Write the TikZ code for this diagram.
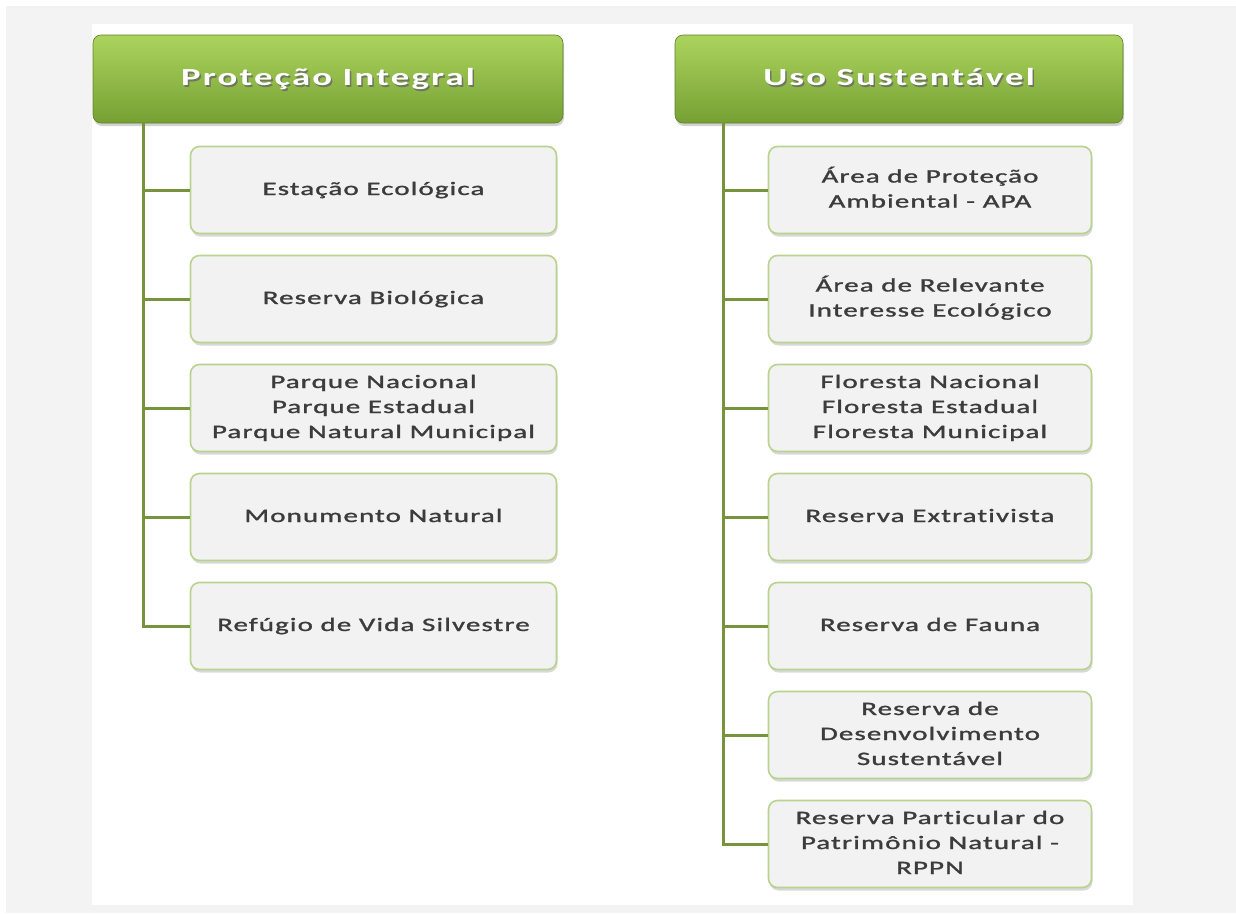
\documentclass[tikz,border=0pt]{standalone}
\usepackage{fontspec}
\usepackage{graphicx}
\setmainfont{Carlito}
\newfontfamily\itemfont{Carlito}[LetterSpace=4, FakeBold=1.2, Ligatures=NoCommon]
\newfontfamily\headfont{Carlito}[LetterSpace=6, Ligatures=NoCommon]
\usetikzlibrary{shadows}
\definecolor{pagegray}{HTML}{F3F3F3}
\definecolor{boxfill}{HTML}{F2F2F2}
\definecolor{boxedge}{HTML}{B9D38F}
\definecolor{spine}{HTML}{77933C}
\definecolor{headtop}{HTML}{ABD45E}
\definecolor{headbot}{HTML}{76A033}
\definecolor{itemtext}{HTML}{3C3C3C}
% widened, centred multi-line label
\newcommand\widelabel[2][1.52]{\scalebox{#1}[1]{\begin{tabular}{@{}c@{}}#2\end{tabular}}}
\tikzset{
  header/.style={rounded corners=8pt, minimum height=88pt, draw=headbot!80!black,
    line width=0.6pt, top color=headtop, bottom color=headbot,
    drop shadow={shadow xshift=1pt, shadow yshift=-3pt, opacity=0.35}},
  headtext/.style={font=\headfont\bfseries\fontsize{24.5}{30}\selectfont},
  itembox/.style={rounded corners=9pt, fill=boxfill, draw=boxedge, line width=1.6pt,
    minimum height=87pt, align=center, text=itemtext, font=\itemfont\fontsize{19}{25}\selectfont,
    drop shadow={shadow xshift=1pt, shadow yshift=-3pt, opacity=0.3}},
  leftbox/.style={itembox, minimum width=366pt},
  rightbox/.style={itembox, minimum width=323pt},
  link/.style={draw=spine, line width=3pt},
}
\begin{document}
\begin{tikzpicture}[x=1pt, y=-1pt]
\useasboundingbox (0,0) rectangle (1236,913);
% page background and white sheet
\fill[pagegray] (6,6) rectangle (1236,913);
\fill[white] (92,24) rectangle (1133,905);

% headers
\node[header, minimum width=470pt] (hL) at (328,79) {};
\node[header, minimum width=448pt] (hR) at (899,79) {};
\foreach \h/\t in {hL/Proteção Integral, hR/Uso Sustentável}{
  \node[text=black!60, opacity=0.8, headtext] at ([xshift=1.5pt,yshift=-2pt]\h.center) {\widelabel[1.5]{\t}};
  \node[text=white, headtext] at (\h.center) {\widelabel[1.5]{\t}};
}

% left column
\node[leftbox] (l1) at (373.5,190) {\widelabel{Estação Ecológica}};
\node[leftbox] (l2) at (373.5,299) {\widelabel{Reserva Biológica}};
\node[leftbox] (l3) at (373.5,408) {\widelabel{Parque Nacional\\Parque Estadual\\Parque Natural Municipal}};
\node[leftbox] (l4) at (373.5,517) {\widelabel{Monumento Natural}};
\node[leftbox] (l5) at (373.5,626) {\widelabel{Refúgio de Vida Silvestre}};

% right column
\node[rightbox] (r1) at (930,190) {\widelabel{Área de Proteção\\Ambiental - APA}};
\node[rightbox] (r2) at (930,299) {\widelabel{Área de Relevante\\Interesse Ecológico}};
\node[rightbox] (r3) at (930,408) {\widelabel{Floresta Nacional\\Floresta Estadual\\Floresta Municipal}};
\node[rightbox] (r4) at (930,517) {\widelabel{Reserva Extrativista}};
\node[rightbox] (r5) at (930,626) {\widelabel{Reserva de Fauna}};
\node[rightbox] (r6) at (930,735) {\widelabel{Reserva de\\Desenvolvimento\\Sustentável}};
\node[rightbox] (r7) at (930,844) {\widelabel{Reserva Particular do\\Patrimônio Natural -\\RPPN}};

% spines and branches
\coordinate (sL) at (143,123);
\coordinate (sR) at (723,122);
\draw[link] (sL) |- (l5.west);
\foreach \n in {l1,l2,l3,l4}{\draw[link] (sL |- \n.west) -- (\n.west);}
\draw[link] (sR) |- (r7.west);
\foreach \n in {r1,r2,r3,r4,r5,r6}{\draw[link] (sR |- \n.west) -- (\n.west);}
\end{tikzpicture}
\end{document}
